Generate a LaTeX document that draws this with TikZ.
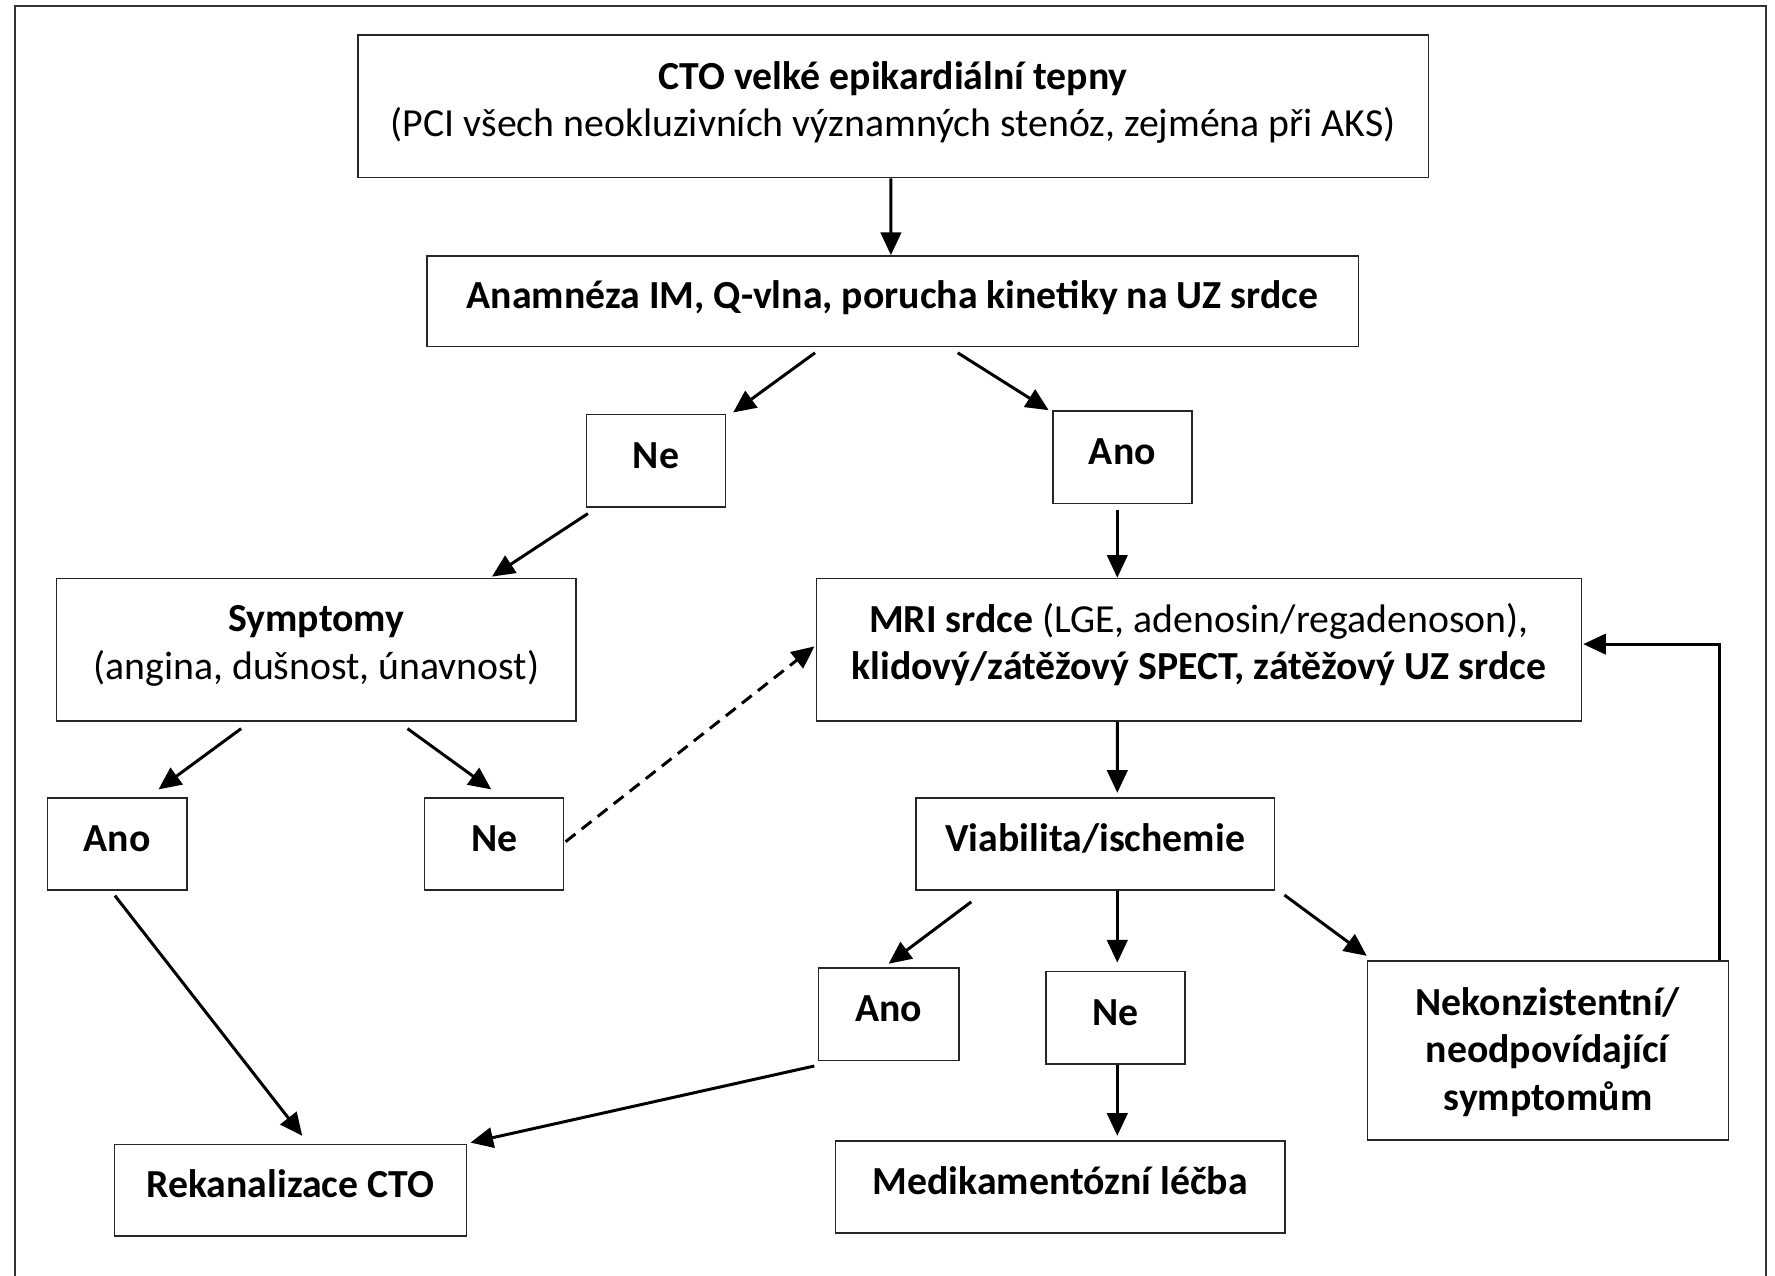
\documentclass[tikz,border=0pt]{standalone}
\usepackage{fontspec}
\setmainfont{Carlito}
\usetikzlibrary{arrows.meta,calc}
\tikzset{
  box/.style={draw=black!85, line width=0.75pt, inner sep=0pt, align=center,
    font=\fontsize{20}{23.9}\selectfont},
  one/.style={text height=0.45cm, text depth=0.18cm},
  arr/.style={line width=1.5pt, -{Triangle[length=0.4cm,width=0.36cm]}},
  dasharr/.style={arr, dash pattern=on 0.22cm off 0.14cm},
}
\begin{document}
\begin{tikzpicture}[x=0.02cm,y=-0.02cm]
\useasboundingbox (0,0) rectangle (1568,1127);
\draw[line width=1pt, black!80] (13,1140) -- (13,5) -- (1560,5) -- (1560,1140);

\node[box, text depth=0.26cm, minimum width=18.92cm, minimum height=2.52cm] (top) at (789,94) {\textbf{CTO velké epikardiální tepny}\\(PCI všech neokluzivních významných stenóz, zejména při AKS)};
\node[box, one, minimum width=16.46cm, minimum height=1.6cm] (anam) at (788.5,266) {\textbf{Anamnéza IM, Q-vlna, porucha kinetiky na UZ srdce}};
\node[box, one, minimum width=2.46cm, minimum height=1.64cm] (ne1) at (579.5,407) {\textbf{Ne}};
\node[box, one, minimum width=2.46cm, minimum height=1.64cm] (ano1) at (991.5,404) {\textbf{Ano}};
\node[box, text depth=0.26cm, minimum width=9.18cm, minimum height=2.52cm] (sym) at (279.5,574) {\textbf{Symptomy}\\(angina, dušnost, únavnost)};
\node[box, text depth=0.3cm, minimum width=13.52cm, minimum height=2.52cm] (mri) at (1059,574) {\textbf{MRI srdce} (LGE, adenosin/regadenoson),\\\textbf{klidový/zátěžový SPECT, zátěžový UZ srdce}};
\node[box, one, minimum width=2.46cm, minimum height=1.62cm] (ano2) at (103.5,745.5) {\textbf{Ano}};
\node[box, one, minimum width=2.46cm, minimum height=1.62cm] (ne2) at (436.5,745.5) {\textbf{Ne}};
\node[box, one, minimum width=6.34cm, minimum height=1.62cm] (via) at (967.5,745.5) {\textbf{Viabilita/ischemie}};
\node[box, one, minimum width=2.48cm, minimum height=1.64cm] (ano3) at (785,896) {\textbf{Ano}};
\node[box, one, minimum width=2.46cm, minimum height=1.64cm] (ne3) at (985.5,899) {\textbf{Ne}};
\node[box, text depth=0.06cm, minimum width=6.38cm, minimum height=3.16cm] (nek) at (1367.5,928) {\textbf{Nekonzistentní/}\\\textbf{neodpovídající}\\\textbf{symptomům}};
\node[box, one, minimum width=6.22cm, minimum height=1.62cm] (rek) at (256.5,1051.5) {\textbf{Rekanalizace CTO}};
\node[box, one, minimum width=7.94cm, minimum height=1.62cm] (med) at (936.5,1048.5) {\textbf{Medikamentózní léčba}};

\draw[arr] ([xshift=-0.04cm]top.south) -- ([xshift=-0.03cm]anam.north);
\draw[arr] ([shift={(-68.5,5)}]anam.south) -- ([shift={(6,-1)}]ne1.north east);
\draw[arr] ([shift={(57.5,5)}]anam.south) -- ([shift={(-3,0)}]ano1.north west);
\draw[arr] ([shift={(-4.5,5)}]ano1.south) -- ([shift={(-72,0)}]mri.north);
\draw[arr] ([shift={(2,5)}]ne1.south west) -- ([shift={(-75,-1)}]sym.north east);
\draw[arr] ([shift={(-66.5,6)}]sym.south) -- ([shift={(36.5,-7)}]ano2.north);
\draw[arr] ([shift={(80.5,6)}]sym.south) -- ([shift={(-2.5,-7)}]ne2.north);
\draw[dasharr] ([shift={(1,-2)}]ne2.east) -- ([shift={(-1,-3)}]mri.west);
\draw[arr] ([shift={(-72,0)}]mri.south) -- ([shift={(19.5,-4)}]via.north);
\draw[arr] ([shift={(-109.5,10)}]via.south) -- ([shift={(0,-3)}]ano3.north);
\draw[arr] ([shift={(19.5,0)}]via.south) -- ([shift={(1.5,-7)}]ne3.north);
\draw[arr] ([shift={(8,4)}]via.south east) -- ([shift={(0,-4)}]nek.north west);
\draw[arr] ([shift={(-8.5,0)}]nek.north east) |- ([shift={(1,-5)}]mri.east);
\draw[arr] ([shift={(-3,4)}]ano3.south west) -- ([shift={(3,-1)}]rek.north east);
\draw[arr] ([shift={(-2,4.5)}]ano2.south) -- ([shift={(10.5,-7)}]rek.north);
\draw[arr] ([shift={(1.5,0)}]ne3.south) -- ([shift={(50.5,-4)}]med.north);
\end{tikzpicture}
\end{document}
